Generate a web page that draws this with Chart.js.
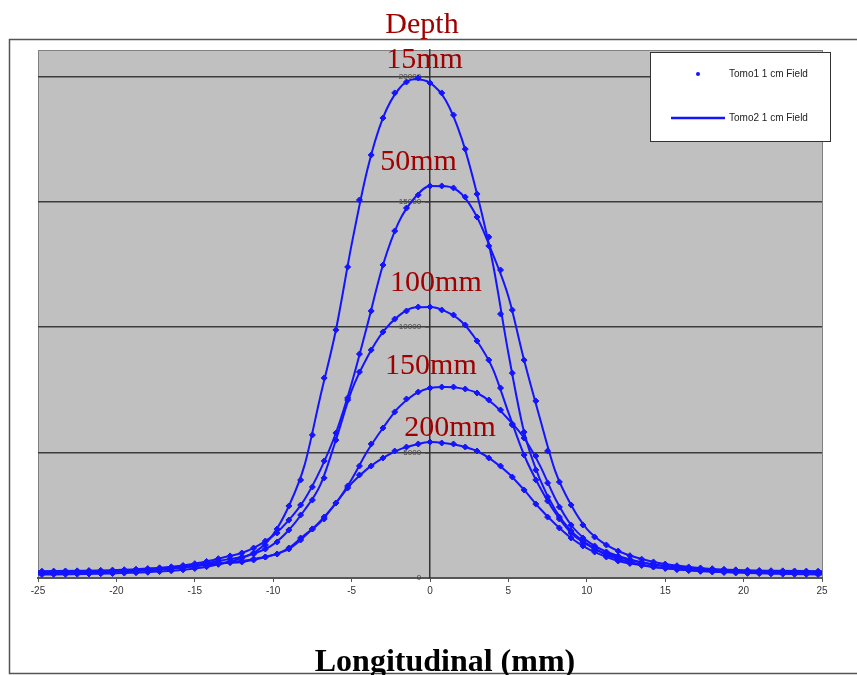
<!DOCTYPE html>
<html>
<head>
<meta charset="utf-8">
<title>Depth profiles</title>
<script src="https://cdn.jsdelivr.net/npm/chart.js@4.4.1/dist/chart.umd.min.js"></script>
<style>
  html, body { margin: 0; padding: 0; background: #fff; }
</style>
</head>
<body>
<canvas id="profileChart" width="857" height="675"></canvas>
<script>
// Tomo1 measured points (mm)
const xPts = [-24.75, -24, -23.25, -22.5, -21.75, -21, -20.25, -19.5, -18.75, -18, -17.25, -16.5, -15.75, -15, -14.25, -13.5, -12.75,
  -12, -11.25, -10.5, -9.75, -9, -8.25, -7.5, -6.75, -6, -5.25, -4.5, -3.75, -3, -2.25, -1.5, -0.75,
  0,
  0.75, 1.5, 2.25, 3, 3.75, 4.5, 5.25, 6, 6.75, 7.5, 8.25, 9, 9.75, 10.5, 11.25, 12,
  12.75, 13.5, 14.25, 15, 15.75, 16.5, 17.25, 18, 18.75, 19.5, 20.25, 21, 21.75, 22.5, 23.25, 24, 24.75];

const tomo1_15 = [140, 145, 150, 155, 160, 170, 180, 195, 210, 230, 255, 285, 325, 380, 450, 545, 660,
  797, 997, 1316, 1955, 2870, 3907, 5700, 7975, 9890, 12400, 15070, 16865, 18340, 19340, 19775, 19935,
  19736,
  19337, 18460, 17100, 15310, 13595, 10525, 8170, 5820, 4306, 3230, 2430, 1875, 1475, 1156, 917, 757,
  630, 525, 445, 385, 335, 295, 265, 240, 220, 200, 185, 175, 165, 155, 150, 145, 140];
const tomo1_50 = [270, 275, 280, 285, 295, 305, 315, 330, 350, 375, 405, 445, 500, 570, 660, 770, 880,
  997, 1196, 1475, 1795, 2310, 2910, 3630, 4665, 5780, 7177, 8930, 10645, 12480, 13835, 14750, 15270,
  15630,
  15630, 15550, 15190, 14390, 13240, 12280, 10685, 8690, 7057, 5063, 3830, 2910, 2113, 1635, 1316, 1076,
  890, 750, 640, 555, 490, 440, 400, 370, 345, 325, 310, 300, 290, 285, 280, 275, 270];
const tomo1_100 = [220, 225, 230, 235, 245, 255, 265, 280, 300, 325, 355, 395, 445, 510, 590, 680, 760,
  837, 957, 1156, 1435, 1914, 2512, 3110, 3990, 5500, 7097, 8213, 9090, 9810, 10325, 10645, 10805,
  10805,
  10685, 10486, 10087, 9450, 8690, 7575, 6100, 4904, 3910, 3070, 2352, 1795, 1435, 1156, 957, 837,
  710, 610, 530, 465, 415, 375, 345, 320, 300, 285, 270, 260, 250, 245, 240, 235, 230];
const tomo1_150 = [200, 205, 210, 215, 225, 235, 250, 265, 285, 305, 335, 370, 415, 470, 530, 590, 640,
  678, 757, 837, 957, 1156, 1515, 1955, 2430, 2990, 3670, 4465, 5343, 5980, 6620, 7137, 7415,
  7575,
  7615, 7615, 7535, 7376, 7097, 6698, 6140, 5580, 4864, 3790, 2830, 2113, 1595, 1276, 1037, 877,
  740, 630, 545, 480, 425, 385, 350, 325, 305, 290, 275, 265, 255, 250, 245, 240, 235];
const tomo1_200 = [230, 235, 240, 245, 255, 265, 275, 290, 305, 325, 350, 380, 420, 465, 520, 570, 610,
  640, 718, 837, 957, 1196, 1595, 1955, 2352, 2990, 3590, 4107, 4465, 4785, 5063, 5223, 5343,
  5422,
  5382, 5343, 5223, 5063, 4785, 4465, 4027, 3510, 2950, 2430, 1995, 1595, 1276, 1037, 837, 678,
  580, 500, 440, 390, 350, 320, 295, 275, 260, 245, 235, 225, 220, 215, 210, 205, 200];

// Tomo2 curves (mm)
const xLine = [-25, -22, -19, -17, -15, -14, -13,
  -12, -11, -10, -9, -8, -7, -6, -5, -4, -3, -2, -1, 0, 1, 2, 3, 4, 5, 6, 7, 8, 9, 10, 11, 12,
  13, 14, 15, 17, 19, 22, 25];

const tomo2_15 = [140, 157, 205, 265, 380, 480, 620,
  797, 1100, 1740, 2870, 4500, 7220, 9890, 13290, 16270, 18340, 19485, 19880, 19740, 19045, 17555, 15310, 12570, 8960, 5820, 3950, 2700, 1875, 1370, 997, 757,
  595, 470, 385, 275, 228, 170, 140];
const tomo2_50 = [270, 290, 343, 415, 570, 695, 845,
  997, 1280, 1690, 2310, 3130, 4300, 5780, 7750, 10080, 12480, 14180, 15140, 15630, 15620, 15320, 14390, 12920, 11220, 8690, 6390, 4240, 2910, 1960, 1420, 1076,
  845, 675, 555, 413, 332, 288, 270];
const tomo2_100 = [220, 240, 293, 368, 510, 620, 733,
  837, 1020, 1340, 1914, 2710, 3700, 5500, 7470, 8800, 9810, 10450, 10780, 10805, 10630, 10230, 9450, 8350, 6600, 4904, 3630, 2590, 1795, 1340, 1020, 837,
  677, 557, 465, 355, 295, 247, 230];
const tomo2_150 = [200, 217, 278, 347, 470, 570, 623,
  678, 784, 917, 1156, 1660, 2270, 2990, 3930, 5050, 5980, 6800, 7320, 7575, 7615, 7560, 7376, 6960, 6330, 5580, 4500, 3150, 2113, 1490, 1117, 877,
  703, 573, 480, 362, 300, 252, 235];
const tomo2_200 = [230, 247, 300, 360, 465, 540, 597,
  640, 758, 920, 1196, 1715, 2220, 2990, 3770, 4350, 4785, 5110, 5300, 5422, 5370, 5260, 5063, 4680, 4180, 3510, 2780, 2140, 1595, 1190, 900, 678,
  553, 457, 390, 303, 255, 217, 200];

const yTicks = [0, 5000, 10000, 15000, 20000];
const seriesNames = ['Tomo1 1 cm Field', 'Tomo2 1 cm Field'];
const depthLabels = ['15mm', '50mm', '100mm', '150mm', '200mm'];
const depthLabelX = [-0.35, -0.73, 0.38, 0.06, 1.28];
const depthLabelY = [20334, 16267, 11443, 8133, 5662];
const titleText = 'Depth';
const xTitle = 'Longitudinal (mm)';

const blue = '#1414ff';
const serif = '"Liberation Serif", "Times New Roman", serif';
const sans = '"Liberation Sans", Arial, sans-serif';

function pairs(xs, ys) {
  return xs.map((x, i) => ({ x: x, y: ys[i] }));
}

const markerSets = [tomo1_15, tomo1_50, tomo1_100, tomo1_150, tomo1_200].map(vals => ({
  label: seriesNames[0],
  data: pairs(xPts, vals),
  showLine: false,
  pointStyle: 'rectRot',
  pointRadius: 3,
  borderWidth: 1,
  borderColor: blue,
  backgroundColor: blue
}));

const lineSets = [tomo2_15, tomo2_50, tomo2_100, tomo2_150, tomo2_200].map(vals => ({
  label: seriesNames[1],
  data: pairs(xLine, vals),
  showLine: true,
  pointRadius: 0,
  borderWidth: 2,
  borderColor: blue,
  backgroundColor: blue,
  cubicInterpolationMode: 'monotone'
}));

// background, frame, labels and legend
const decor = {
  id: 'decor',
  beforeDraw(chart) {
    const ctx = chart.ctx;
    const a = chart.chartArea;
    ctx.save();
    ctx.fillStyle = '#fff';
    ctx.fillRect(0, 0, chart.width, chart.height);
    ctx.fillStyle = '#c0c0c0';
    ctx.fillRect(a.left, a.top, a.right - a.left, a.bottom - a.top);
    ctx.strokeStyle = '#808080';
    ctx.lineWidth = 1;
    ctx.strokeRect(a.left + 0.5, a.top + 0.5, a.right - a.left, a.bottom - a.top);
    // outer frame
    ctx.strokeStyle = '#555';
    ctx.lineWidth = 1.5;
    ctx.beginPath();
    ctx.moveTo(chart.width, 39.5);
    ctx.lineTo(9.5, 39.5);
    ctx.lineTo(9.5, 673.5);
    ctx.lineTo(chart.width, 673.5);
    ctx.stroke();
    ctx.restore();
  },
  afterDraw(chart) {
    const ctx = chart.ctx;
    const xs = chart.scales.x, ys = chart.scales.y;
    ctx.save();
    ctx.fillStyle = '#a00000';
    ctx.font = '30px ' + serif;
    ctx.textAlign = 'center';
    ctx.textBaseline = 'alphabetic';
    ctx.fillText(titleText, 422, 33);
    depthLabels.forEach((t, i) => {
      ctx.fillText(t, xs.getPixelForValue(depthLabelX[i]), ys.getPixelForValue(depthLabelY[i]));
    });

    ctx.fillStyle = '#000';
    ctx.font = 'bold 32px ' + serif;
    ctx.fillText(xTitle, 445, 671);

    // legend
    ctx.fillStyle = '#fff';
    ctx.fillRect(650, 52, 180, 89);
    ctx.strokeStyle = '#333';
    ctx.lineWidth = 1;
    ctx.strokeRect(650.5, 52.5, 180, 89);
    ctx.fillStyle = blue;
    ctx.beginPath();
    ctx.arc(698, 74, 2, 0, Math.PI * 2);
    ctx.fill();
    ctx.strokeStyle = blue;
    ctx.lineWidth = 2.5;
    ctx.beginPath();
    ctx.moveTo(671, 118);
    ctx.lineTo(725, 118);
    ctx.stroke();
    ctx.fillStyle = '#222';
    ctx.font = '10px ' + sans;
    ctx.textAlign = 'left';
    ctx.textBaseline = 'middle';
    ctx.fillText(seriesNames[0], 729, 74);
    ctx.fillText(seriesNames[1], 729, 118);
    ctx.restore();
  }
};

new Chart(document.getElementById('profileChart'), {
  type: 'scatter',
  data: { datasets: markerSets.concat(lineSets) },
  plugins: [decor],
  options: {
    responsive: false,
    animation: false,
    layout: { padding: { top: 50, left: 38, right: 35, bottom: 0 } },
    plugins: {
      legend: { display: false },
      title: { display: false },
      tooltip: { enabled: false }
    },
    scales: {
      x: {
        type: 'linear',
        position: 'bottom',
        min: -25,
        max: 25,
        ticks: { stepSize: 5, color: '#333', font: { size: 10, family: sans }, padding: 3, maxRotation: 0 },
        grid: { drawOnChartArea: false, drawTicks: true, tickLength: 4, color: '#555' },
        border: { display: true, color: '#555', width: 2 },
        afterFit(scale) { scale.height = 97; }
      },
      y: {
        type: 'linear',
        position: { x: 0 },
        min: 0,
        max: 21050,
        afterBuildTicks(scale) { scale.ticks = yTicks.map(v => ({ value: v })); },
        // trailing spaces keep the labels clear of the axis line
        ticks: { color: '#444', font: { size: 8, family: sans }, padding: 2, callback: v => v + '    ' },
        grid: { color: '#3c3c3c', lineWidth: 1.5, drawTicks: true, tickLength: 4 },
        border: { display: true, color: '#333', width: 1.5 }
      }
    }
  }
});
</script>
</body>
</html>
